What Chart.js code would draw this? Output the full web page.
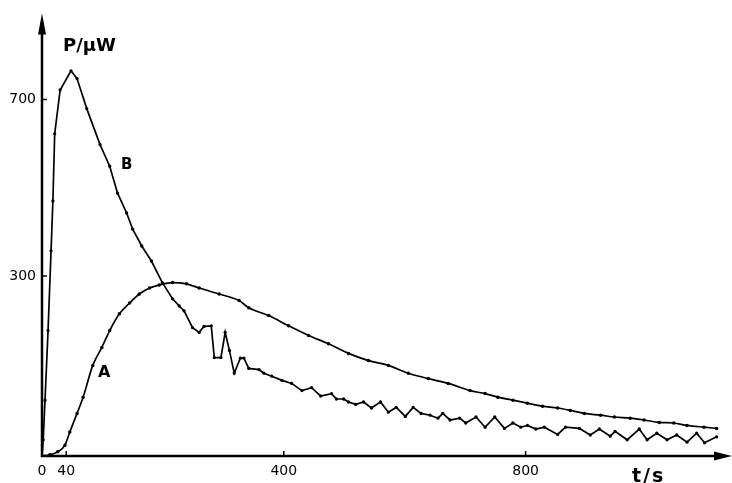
<!DOCTYPE html>
<html>
<head>
<meta charset="utf-8">
<script src="https://cdn.jsdelivr.net/npm/chart.js@4.4.1/dist/chart.umd.min.js"></script>
<style>
  body { margin: 0; background: #fff; }
  #wrap { width: 732px; height: 483px; position: relative; }
</style>
</head>
<body>
<div id="wrap"><canvas id="powerChart" width="732" height="483"></canvas></div>
<script>
// curve A
const timeA = [0, 13, 26, 38, 46, 58, 68, 84, 99, 112, 128, 145, 161, 178, 194, 216, 239, 260, 293, 326,
    342, 375, 408, 441, 474, 507, 540, 573, 606, 639, 672, 708, 733, 754, 779, 803, 828, 853, 874, 897,
    924, 947, 973, 996, 1021, 1045, 1067, 1095, 1116];
const powerA = [0, 2, 7, 18, 40, 71, 98, 151, 181, 209, 237, 255, 270, 280, 285, 289, 287, 280, 270, 259,
    247, 234, 217, 201, 187, 171, 159, 151, 138, 129, 121, 109, 104, 98, 93, 88, 83, 80, 76, 71,
    68, 65, 63, 60, 56, 55, 51, 48, 46];

// curve B
const timeB = [0, 2, 5, 10, 15, 18, 21, 30, 48, 58, 74, 96, 112, 125, 140, 150, 165, 181, 199, 216,
    227, 235, 249, 260, 268, 280, 285, 296, 303, 310, 318, 328, 334, 342, 359, 367, 380, 397, 413, 430,
    446, 461, 479, 487, 499, 507, 519, 532, 545, 560, 573, 586, 601, 614, 627, 642, 655, 663, 675, 691,
    701, 718, 733, 749, 765, 779, 792, 803, 817, 831, 853, 866, 889, 907, 922, 940, 948, 968, 988, 1001,
    1017, 1034, 1050, 1067, 1083, 1096, 1116];
const powerB = [0, 27, 93, 209, 342, 425, 537, 610, 642, 629, 579, 519, 483, 438, 405, 378, 350, 325, 289, 262,
    250, 242, 214, 206, 216, 217, 164, 164, 206, 176, 138, 163, 163, 146, 144, 138, 133, 126, 121, 109,
    114, 100, 104, 95, 95, 90, 86, 90, 80, 90, 73, 81, 66, 81, 71, 68, 63, 71, 60, 63,
    55, 65, 48, 65, 46, 55, 48, 51, 45, 48, 36, 48, 46, 35, 45, 33, 41, 27, 45, 27,
    38, 27, 35, 23, 38, 22, 32];

const xTickValues = [0, 40, 400, 800];
const xTickLabels = ['0', '40', '400', '800'];
const yTickValues = [300, 594];
const yTickLabels = ['300', '700'];

function toPoints(xs, ys) {
    return xs.map((x, i) => ({ x: x, y: ys[i] }));
}

// axes with arrows, inward tick marks and the free labels
const axesPlugin = {
    id: 'axesPlugin',
    afterDraw(chart) {
        const ctx = chart.ctx;
        const area = chart.chartArea;
        const xs = chart.scales.x;
        const ys = chart.scales.y;
        const x0 = xs.getPixelForValue(0);
        const y0 = ys.getPixelForValue(0);
        ctx.save();
        ctx.strokeStyle = '#000';
        ctx.fillStyle = '#000';
        ctx.lineWidth = 2.5;
        ctx.beginPath();
        ctx.moveTo(x0, y0 + 1);
        ctx.lineTo(x0, area.top + 8);
        ctx.moveTo(x0 - 1, y0);
        ctx.lineTo(731 - 8, y0);
        ctx.stroke();

        // arrow heads
        ctx.beginPath();
        ctx.moveTo(x0, area.top - 1);
        ctx.lineTo(x0 - 4, area.top + 20);
        ctx.lineTo(x0 + 4, area.top + 20);
        ctx.closePath();
        ctx.fill();
        ctx.beginPath();
        ctx.moveTo(732, y0);
        ctx.lineTo(714, y0 - 4.5);
        ctx.lineTo(714, y0 + 4.5);
        ctx.closePath();
        ctx.fill();

        // tick marks
        ctx.lineWidth = 1.5;
        ctx.beginPath();
        xTickValues.slice(1).forEach(v => {
            const px = xs.getPixelForValue(v);
            ctx.moveTo(px, y0);
            ctx.lineTo(px, y0 - 5);
        });
        yTickValues.forEach(v => {
            const py = ys.getPixelForValue(v);
            ctx.moveTo(x0, py);
            ctx.lineTo(x0 + 5, py);
        });
        ctx.stroke();

        ctx.textBaseline = 'alphabetic';
        ctx.textAlign = 'left';
        ctx.font = 'bold 18px "DejaVu Sans"';
        ctx.fillText('P/\u00b5W', 63, 51);
        ctx.font = 'bold 19px "DejaVu Sans"';
        ctx.fillText('t', 632, 482);
        ctx.fillText('/', 643, 482);
        ctx.fillText('s', 652, 482);
        ctx.font = 'bold 16px "DejaVu Sans"';
        ctx.fillText('A', 98, 377);
        ctx.font = 'bold 15px "DejaVu Sans"';
        ctx.fillText('B', 121, 169);
        ctx.restore();
    }
};

const ctx = document.getElementById('powerChart').getContext('2d');
new Chart(ctx, {
    type: 'line',
    data: {
        datasets: [{
            label: 'A',
            data: toPoints(timeA, powerA),
            borderColor: '#000',
            backgroundColor: '#000',
            borderWidth: 1.7,
            pointRadius: 0.9,
            cubicInterpolationMode: 'monotone'
        }, {
            label: 'B',
            data: toPoints(timeB, powerB),
            borderColor: '#000',
            backgroundColor: '#000',
            borderWidth: 1.7,
            pointRadius: 0.8,
            tension: 0
        }]
    },
    options: {
        responsive: false,
        animation: false,
        layout: { padding: { top: 12, right: 2, left: 0, bottom: 0 } },
        plugins: {
            legend: { display: false },
            tooltip: { enabled: false }
        },
        scales: {
            x: {
                type: 'linear',
                min: 0,
                max: 1132,
                grid: { display: false, drawTicks: false },
                border: { display: false },
                afterBuildTicks: scale => {
                    scale.ticks = xTickValues.map(v => ({ value: v }));
                },
                afterFit: scale => { scale.height = 27; },
                ticks: {
                    color: '#000',
                    padding: 7,
                    maxRotation: 0,
                    autoSkip: false,
                    font: { family: 'DejaVu Sans', size: 14 },
                    callback: (value) => xTickLabels[xTickValues.indexOf(value)]
                }
            },
            y: {
                min: 0,
                max: 736,
                grid: { display: false, drawTicks: false },
                border: { display: false },
                afterBuildTicks: scale => {
                    scale.ticks = yTickValues.map(v => ({ value: v }));
                },
                afterFit: scale => { scale.width = 42; },
                ticks: {
                    color: '#000',
                    padding: 6,
                    autoSkip: false,
                    font: { family: 'DejaVu Sans', size: 14 },
                    callback: (value) => yTickLabels[yTickValues.indexOf(value)]
                }
            }
        }
    },
    plugins: [axesPlugin]
});
</script>
</body>
</html>
